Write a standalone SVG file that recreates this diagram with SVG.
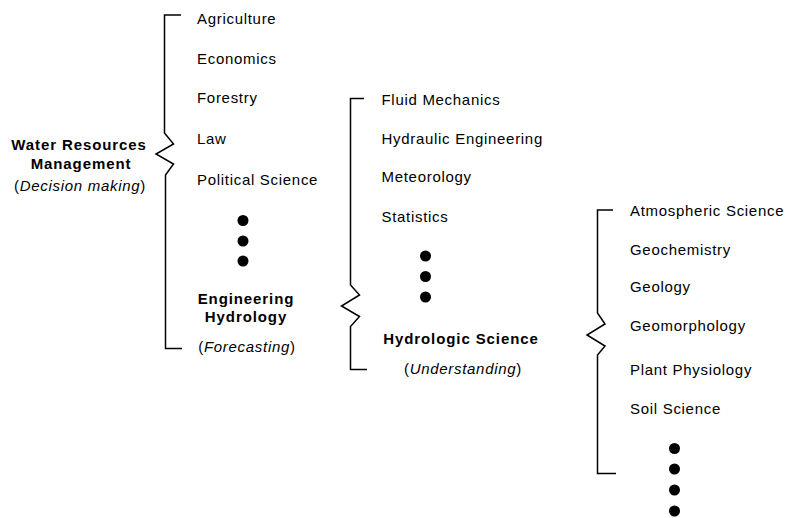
<svg xmlns="http://www.w3.org/2000/svg" width="788" height="518" viewBox="0 0 788 518">
<style>
text{font-family:"Liberation Sans",Arial,sans-serif;font-size:15px;fill:#000;letter-spacing:0.7px}
.b{font-weight:bold;letter-spacing:0.9px}
.m{text-anchor:middle}
.i{font-style:italic}
.br{fill:none;stroke:#000;stroke-width:1.5;stroke-linejoin:miter}
.dot{fill:#000}
</style>
<rect width="788" height="518" fill="#fff"/>
<g id="connectors">
<path class="br" d="M181,15 H164.5 V133 L173.5,144 L156,154 L173.5,164 L165.5,175 V348.5 H182"/>
<path class="br" d="M364,98.5 H350.5 V285 L359.5,295 L341.5,306 L359.5,316.5 L350.5,326.5 V369.5 H367"/>
<path class="br" d="M613,210 H597.5 V313 L605,324 L587,335 L605,346 L597.5,355 V473.5 H616"/>
</g>
<g id="water-resources-management">
<text class="b m" x="79" y="150">Water Resources</text>
<text class="b m" x="81" y="169">Management</text>
<text class="m" x="80" y="191">(<tspan class="i">Decision making</tspan>)</text>
</g>
<g id="agriculture"><text x="197" y="24">Agriculture</text></g>
<g id="economics"><text x="197" y="63.5">Economics</text></g>
<g id="forestry"><text x="197" y="103">Forestry</text></g>
<g id="law"><text x="197" y="144">Law</text></g>
<g id="political-science"><text x="197" y="185">Political Science</text></g>
<g id="dots-1">
<circle class="dot" cx="243" cy="220.5" r="5.5"/>
<circle class="dot" cx="243" cy="241" r="5.5"/>
<circle class="dot" cx="243" cy="261" r="5.5"/>
</g>
<g id="engineering-hydrology">
<text class="b m" x="246" y="303.5">Engineering</text>
<text class="b m" x="246" y="322">Hydrology</text>
<text class="m" x="247" y="352">(<tspan class="i">Forecasting</tspan>)</text>
</g>
<g id="fluid-mechanics"><text x="381.5" y="105">Fluid Mechanics</text></g>
<g id="hydraulic-engineering"><text x="381.5" y="144">Hydraulic Engineering</text></g>
<g id="meteorology"><text x="381.5" y="182">Meteorology</text></g>
<g id="statistics"><text x="381.5" y="222">Statistics</text></g>
<g id="dots-2">
<circle class="dot" cx="425.5" cy="256" r="5.5"/>
<circle class="dot" cx="425.5" cy="276.5" r="5.5"/>
<circle class="dot" cx="425.5" cy="297" r="5.5"/>
</g>
<g id="hydrologic-science">
<text class="b m" x="461" y="344">Hydrologic Science</text>
<text class="m" x="463" y="373.5">(<tspan class="i">Understanding</tspan>)</text>
</g>
<g id="atmospheric-science"><text x="630" y="216">Atmospheric Science</text></g>
<g id="geochemistry"><text x="630" y="255">Geochemistry</text></g>
<g id="geology"><text x="630" y="292">Geology</text></g>
<g id="geomorphology"><text x="630" y="331">Geomorphology</text></g>
<g id="plant-physiology"><text x="630" y="375">Plant Physiology</text></g>
<g id="soil-science"><text x="630" y="414">Soil Science</text></g>
<g id="dots-3">
<circle class="dot" cx="674.5" cy="448.5" r="5.5"/>
<circle class="dot" cx="674.5" cy="469" r="5.5"/>
<circle class="dot" cx="674.5" cy="490" r="5.5"/>
<circle class="dot" cx="674.5" cy="511" r="5.5"/>
</g>
</svg>
